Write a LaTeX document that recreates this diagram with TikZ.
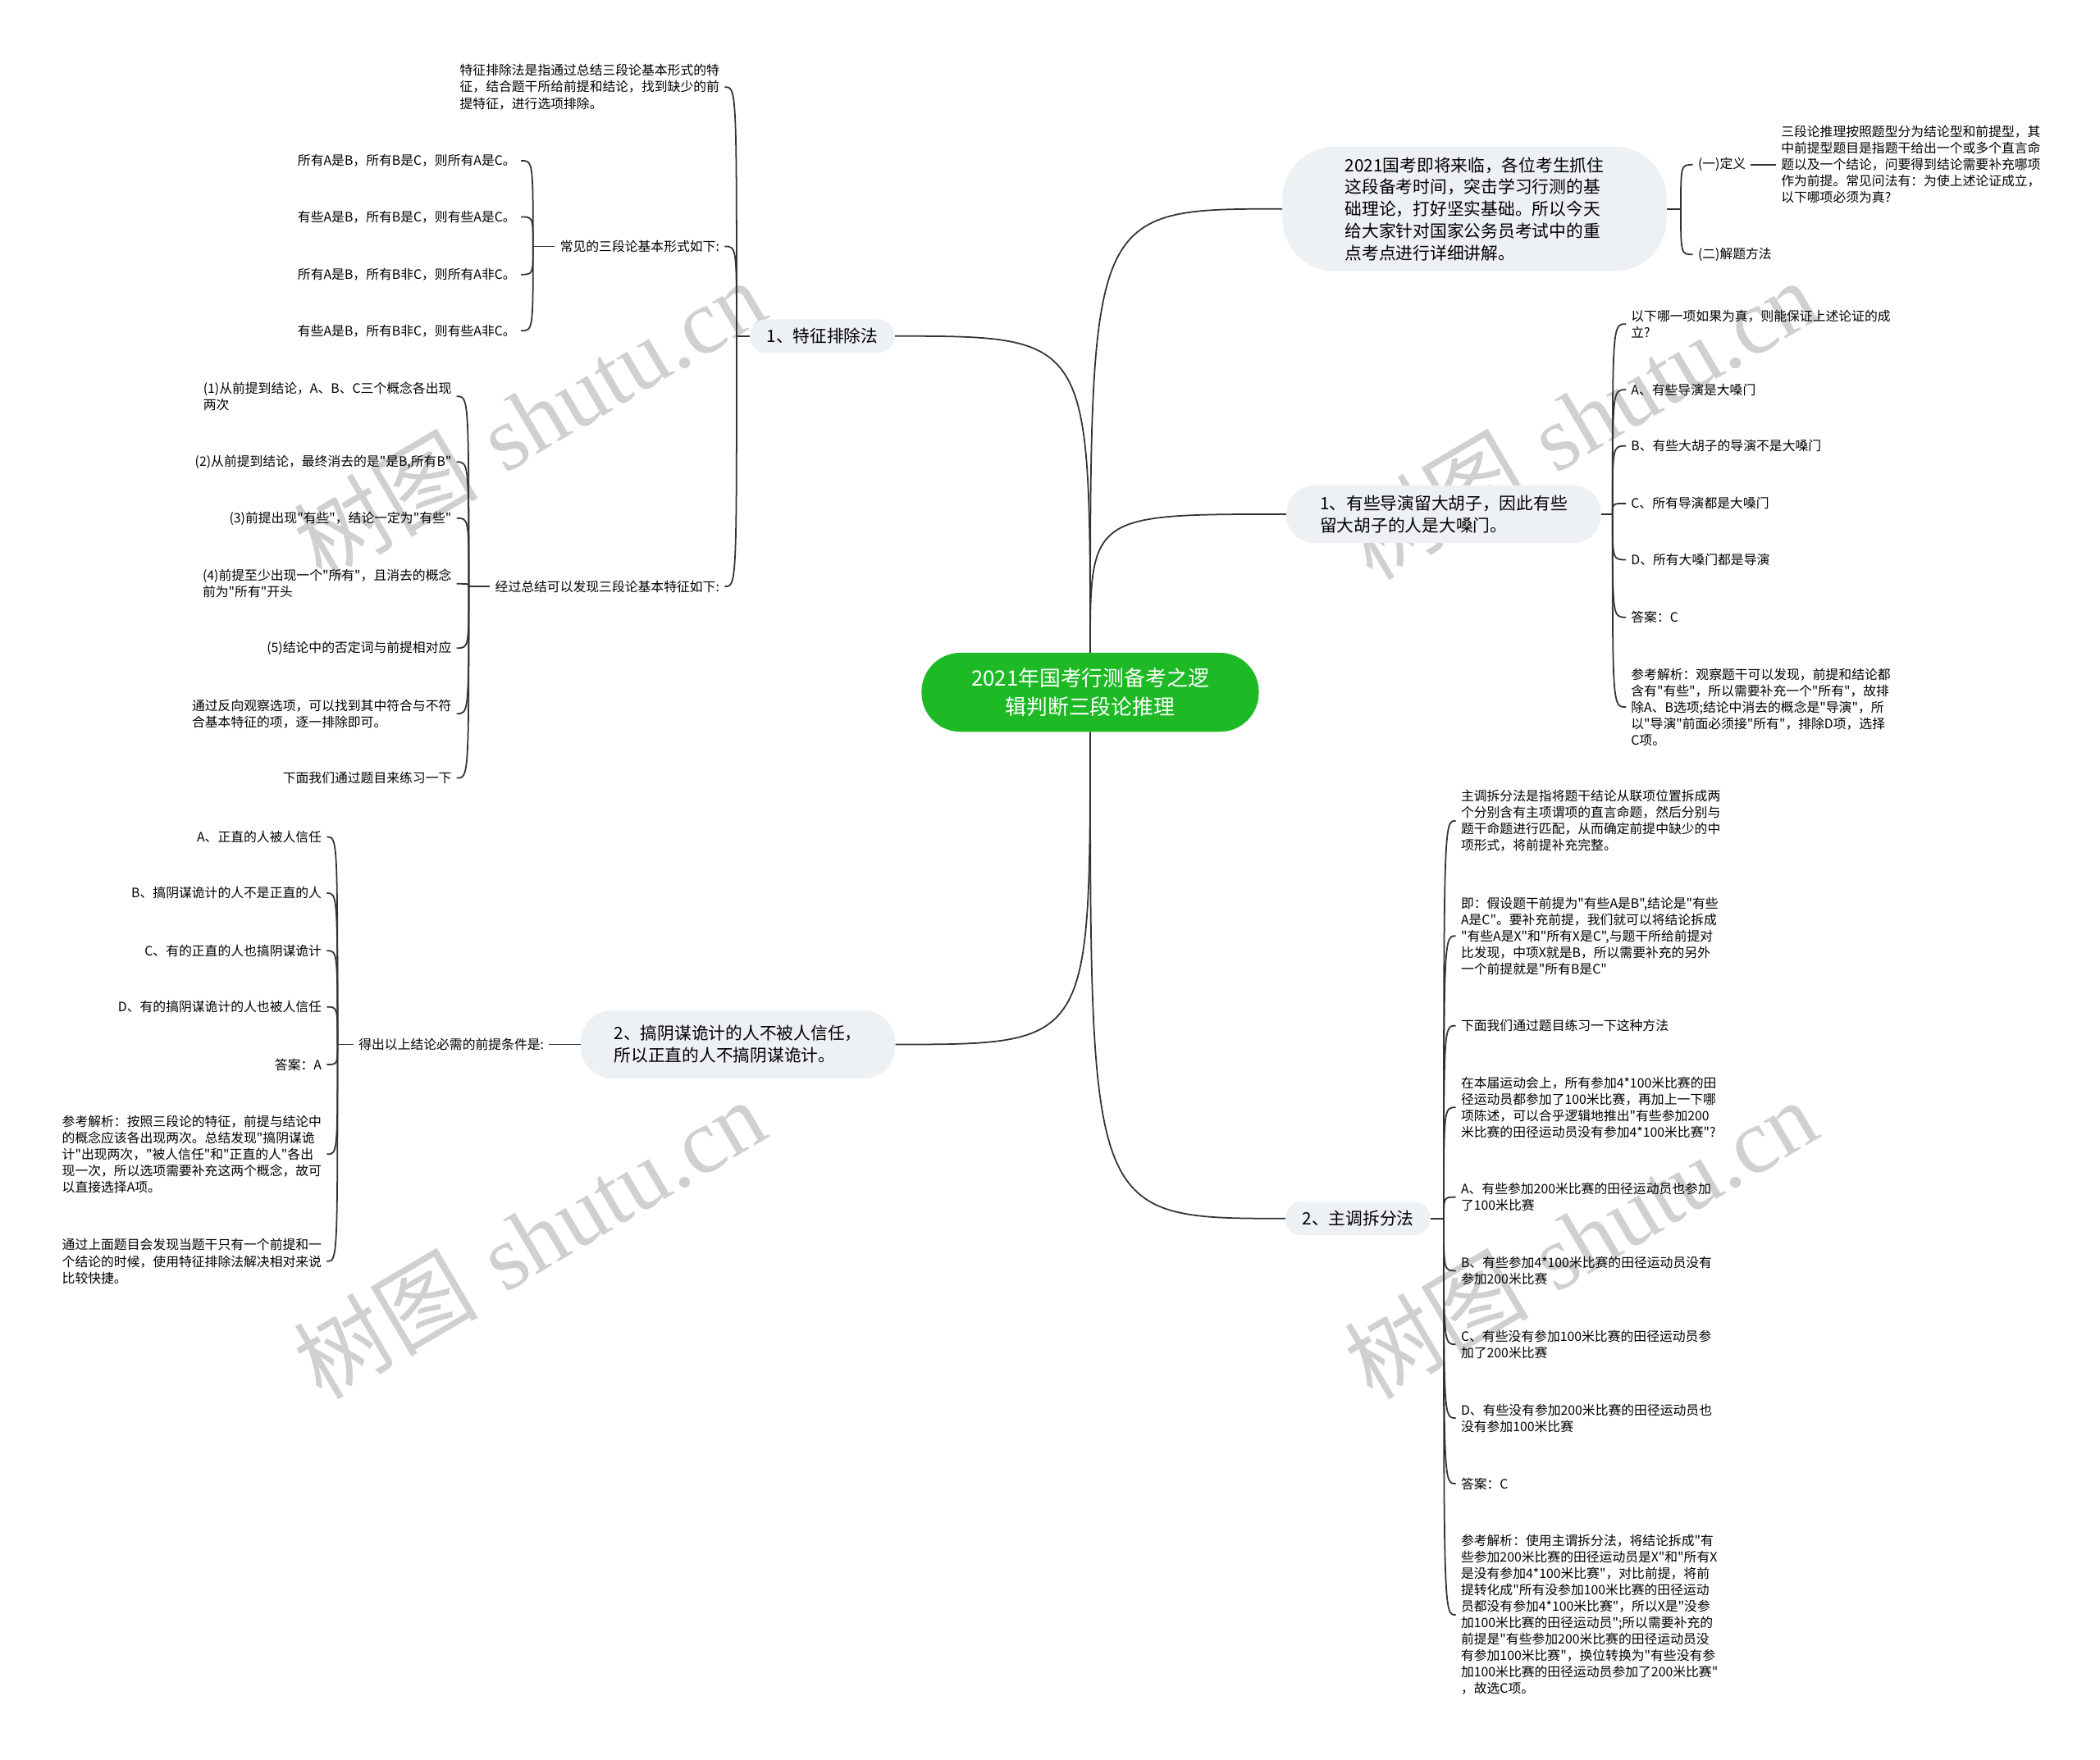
\documentclass[tikz,border=0pt]{standalone}
\usepackage{fontspec}
\newfontfamily\cjk{Noto Sans CJK SC}
\newfontfamily\wmfont{Liberation Serif}

\definecolor{rootgreen}{RGB}{30,186,38}
\definecolor{topicbg}{RGB}{238,241,244}
\definecolor{linegray}{RGB}{50,50,50}
\definecolor{wmgray}{RGB}{208,208,208}

\tikzset{
  conn/.style={draw=linegray, line width=1pt},
  leaf/.style={font=\cjk\fontsize{9}{11.4}\selectfont, align=left, inner sep=0pt, outer sep=3.6pt},
  topic/.style={fill=topicbg, font=\cjk\fontsize{11.8}{15.2}\selectfont, align=left, inner sep=0pt},
  rootnode/.style={fill=rootgreen, text=white, font=\cjk\fontsize{14.7}{19.5}\selectfont, align=center,
    rounded corners=27pt, minimum width=234pt, minimum height=54.8pt, inner sep=0pt},
  wmark/.style={text=wmgray, rotate=30.5, font=\fontsize{64}{64}\selectfont}
}

\begin{document}
\begin{tikzpicture}[x=0.032653cm, y=-0.032653cm]
  \useasboundingbox (0,0) rectangle (1568,1314);

  % --- 水印
  \foreach \wx/\wy [count=\i] in {395/313, 1180/313, 395/925, 1180/925}
    \node[wmark] (wm\i) at (\wx,\wy) {{\cjk 树图} {\wmfont shutu.cn}};

  % --- 中心主题
  \node[rootnode] (root) at (814,517) {2021年国考行测备考之逻\\辑判断三段论推理};

  % --- 一级主题
  \node[topic, minimum width=266.5pt, minimum height=86.4pt, rounded corners=36pt] (intro) at (1101,156)
    {2021国考即将来临，各位考生抓住\\这段备考时间，突击学习行测的基\\础理论，打好坚实基础。所以今天\\给大家针对国家公务员考试中的重\\点考点进行详细讲解。};
  \node[topic, minimum width=218.2pt, minimum height=39.9pt, rounded corners=19pt] (daoyan) at (1078,384)
    {1、有些导演留大胡子，因此有些\\留大胡子的人是大嗓门。};
  \node[topic, minimum width=100.3pt, minimum height=23.2pt, rounded corners=11pt] (zhuwei) at (1014,910) {2、主调拆分法};
  \node[topic, minimum width=100.3pt, minimum height=23.2pt, rounded corners=11pt] (tezheng) at (614,251) {1、特征排除法};
  \node[topic, minimum width=218.2pt, minimum height=47.4pt, rounded corners=22pt] (yinmou) at (551,780)
    {2、搞阴谋诡计的人不被人信任，\\所以正直的人不搞阴谋诡计。};

  \draw[conn] (root.north) .. controls (root.north |- intro.west) .. (intro.west);
  \draw[conn] (root.north) .. controls (root.north |- daoyan.west) .. (daoyan.west);
  \draw[conn] (root.north) .. controls (root.north |- tezheng.east) .. (tezheng.east);
  \draw[conn] (root.south) .. controls (root.south |- zhuwei.west) .. (zhuwei.west);
  \draw[conn] (root.south) .. controls (root.south |- yinmou.east) .. (yinmou.east);

  % --- 右上：引言
  \coordinate (introSp) at (1255,156);
  \node[leaf, anchor=west] (dingyi) at (1264,123) {(一)定义};
  \node[leaf, anchor=west] (fangfa) at (1264,190) {(二)解题方法};
  \node[leaf, anchor=west] (dyText) at (1326,123) {三段论推理按照题型分为结论型和前提型，其\\中前提型题目是指题干给出一个或多个直言命\\题以及一个结论，问要得到结论需要补充哪项\\作为前提。常见问法有：为使上述论证成立，\\以下哪项必须为真?};
  \draw[conn] (intro.east) -- (introSp);
  \foreach \c in {dingyi,fangfa}
    \draw[conn] (introSp) .. controls (introSp |- \c.west) .. (\c.west);
  \draw[conn] (dingyi.east) -- (dyText.west);

  % --- 右中：例题1
  \coordinate (dySp) at (1204,384);
  \node[leaf, anchor=west] (tigan) at (1214,242) {以下哪一项如果为真，则能保证上述论证的成\\立?};
  \node[leaf, anchor=west] (xA) at (1214,291) {A、有些导演是大嗓门};
  \node[leaf, anchor=west] (xB) at (1214,333) {B、有些大胡子的导演不是大嗓门};
  \node[leaf, anchor=west] (xC) at (1214,376) {C、所有导演都是大嗓门};
  \node[leaf, anchor=west] (xD) at (1214,418) {D、所有大嗓门都是导演};
  \node[leaf, anchor=west] (daan1) at (1214,461) {答案：C};
  \node[leaf, anchor=west] (jiexi1) at (1214,528) {参考解析：观察题干可以发现，前提和结论都\\含有"有些"，所以需要补充一个"所有"，故排\\除A、B选项;结论中消去的概念是"导演"，所\\以"导演"前面必须接"所有"，排除D项，选择\\C项。};
  \draw[conn] (daoyan.east) -- (dySp);
  \foreach \c in {tigan,xA,xB,xC,xD,daan1,jiexi1}
    \draw[conn] (dySp) .. controls (dySp |- \c.west) .. (\c.west);

  % --- 右下：主调拆分法
  \coordinate (zwSp) at (1078,910);
  \node[leaf, anchor=west] (zwDef) at (1087,613) {主调拆分法是指将题干结论从联项位置拆成两\\个分别含有主项谓项的直言命题，然后分别与\\题干命题进行匹配，从而确定前提中缺少的中\\项形式，将前提补充完整。};
  \node[leaf, anchor=west] (zwJi) at (1087,699) {即：假设题干前提为"有些A是B",结论是"有些\\A是C"。要补充前提，我们就可以将结论拆成\\"有些A是X"和"所有X是C",与题干所给前提对\\比发现，中项X就是B，所以需要补充的另外\\一个前提就是"所有B是C"};
  \node[leaf, anchor=west] (zwLian) at (1087,766) {下面我们通过题目练习一下这种方法};
  \node[leaf, anchor=west] (zwTi) at (1087,827) {在本届运动会上，所有参加4*100米比赛的田\\径运动员都参加了100米比赛，再加上一下哪\\项陈述，可以合乎逻辑地推出"有些参加200\\米比赛的田径运动员没有参加4*100米比赛"?};
  \node[leaf, anchor=west] (zwA) at (1087,894) {A、有些参加200米比赛的田径运动员也参加\\了100米比赛};
  \node[leaf, anchor=west] (zwB) at (1087,949) {B、有些参加4*100米比赛的田径运动员没有\\参加200米比赛};
  \node[leaf, anchor=west] (zwC) at (1087,1004) {C、有些没有参加100米比赛的田径运动员参\\加了200米比赛};
  \node[leaf, anchor=west] (zwD) at (1087,1059) {D、有些没有参加200米比赛的田径运动员也\\没有参加100米比赛};
  \node[leaf, anchor=west] (daan2) at (1087,1108) {答案：C};
  \node[leaf, anchor=west] (jiexi2) at (1087,1206) {参考解析：使用主谓拆分法，将结论拆成"有\\些参加200米比赛的田径运动员是X"和"所有X\\是没有参加4*100米比赛"，对比前提，将前\\提转化成"所有没参加100米比赛的田径运动\\员都没有参加4*100米比赛"，所以X是"没参\\加100米比赛的田径运动员";所以需要补充的\\前提是"有些参加200米比赛的田径运动员没\\有参加100米比赛"，换位转换为"有些没有参\\加100米比赛的田径运动员参加了200米比赛"\\，故选C项。};
  \draw[conn] (zhuwei.east) -- (zwSp);
  \foreach \c in {zwDef,zwJi,zwLian,zwTi,zwA,zwB,zwC,zwD,daan2,jiexi2}
    \draw[conn] (zwSp) .. controls (zwSp |- \c.west) .. (\c.west);

  % --- 左上：特征排除法
  \coordinate (tzSp) at (550,251);
  \node[leaf, anchor=east] (tzDef) at (541,65) {特征排除法是指通过总结三段论基本形式的特\\征，结合题干所给前提和结论，找到缺少的前\\提特征，进行选项排除。};
  \node[leaf, anchor=east] (xingshi) at (541,184) {常见的三段论基本形式如下:};
  \node[leaf, anchor=east] (tedian) at (541,438) {经过总结可以发现三段论基本特征如下:};
  \draw[conn] (tezheng.west) -- (tzSp);
  \foreach \c in {tzDef,xingshi,tedian}
    \draw[conn] (tzSp) .. controls (tzSp |- \c.east) .. (\c.east);

  \coordinate (xsSp) at (398,184);
  \node[leaf, anchor=east] (xs1) at (389,120) {所有A是B，所有B是C，则所有A是C。};
  \node[leaf, anchor=east] (xs2) at (389,162) {有些A是B，所有B是C，则有些A是C。};
  \node[leaf, anchor=east] (xs3) at (389,205) {所有A是B，所有B非C，则所有A非C。};
  \node[leaf, anchor=east] (xs4) at (389,247) {有些A是B，所有B非C，则有些A非C。};
  \draw[conn] (xingshi.west) -- (xsSp);
  \foreach \c in {xs1,xs2,xs3,xs4}
    \draw[conn] (xsSp) .. controls (xsSp |- \c.east) .. (\c.east);

  \coordinate (tdSp) at (350,438);
  \node[leaf, anchor=east] (td1) at (341,296) {(1)从前提到结论，A、B、C三个概念各出现\\两次};
  \node[leaf, anchor=east] (td2) at (341,345) {(2)从前提到结论，最终消去的是"是B,所有B"};
  \node[leaf, anchor=east] (td3) at (341,387) {(3)前提出现"有些"，结论一定为"有些"};
  \node[leaf, anchor=east] (td4) at (341,436) {(4)前提至少出现一个"所有"，且消去的概念\\前为"所有"开头};
  \node[leaf, anchor=east] (td5) at (341,484) {(5)结论中的否定词与前提相对应};
  \node[leaf, anchor=east] (td6) at (341,533) {通过反向观察选项，可以找到其中符合与不符\\合基本特征的项，逐一排除即可。};
  \node[leaf, anchor=east] (td7) at (341,581) {下面我们通过题目来练习一下};
  \draw[conn] (tedian.west) -- (tdSp);
  \foreach \c in {td1,td2,td3,td4,td5,td6,td7}
    \draw[conn] (tdSp) .. controls (tdSp |- \c.east) .. (\c.east);

  % --- 左下：例题2
  \node[leaf, anchor=east] (tiaojian) at (410,780) {得出以上结论必需的前提条件是:};
  \draw[conn] (yinmou.west) -- (tiaojian.east);
  \coordinate (tjSp) at (252,780);
  \node[leaf, anchor=east] (yA) at (244,625) {A、正直的人被人信任};
  \node[leaf, anchor=east] (yB) at (244,667) {B、搞阴谋诡计的人不是正直的人};
  \node[leaf, anchor=east] (yC) at (244,710) {C、有的正直的人也搞阴谋诡计};
  \node[leaf, anchor=east] (yD) at (244,752) {D、有的搞阴谋诡计的人也被人信任};
  \node[leaf, anchor=east] (daan3) at (244,795) {答案：A};
  \node[leaf, anchor=east] (jiexi3) at (244,862) {参考解析：按照三段论的特征，前提与结论中\\的概念应该各出现两次。总结发现"搞阴谋诡\\计"出现两次，"被人信任"和"正直的人"各出\\现一次，所以选项需要补充这两个概念，故可\\以直接选择A项。};
  \node[leaf, anchor=east] (zongjie) at (244,942) {通过上面题目会发现当题干只有一个前提和一\\个结论的时候，使用特征排除法解决相对来说\\比较快捷。};
  \draw[conn] (tiaojian.west) -- (tjSp);
  \foreach \c in {yA,yB,yC,yD,daan3,jiexi3,zongjie}
    \draw[conn] (tjSp) .. controls (tjSp |- \c.east) .. (\c.east);
\end{tikzpicture}
\end{document}
